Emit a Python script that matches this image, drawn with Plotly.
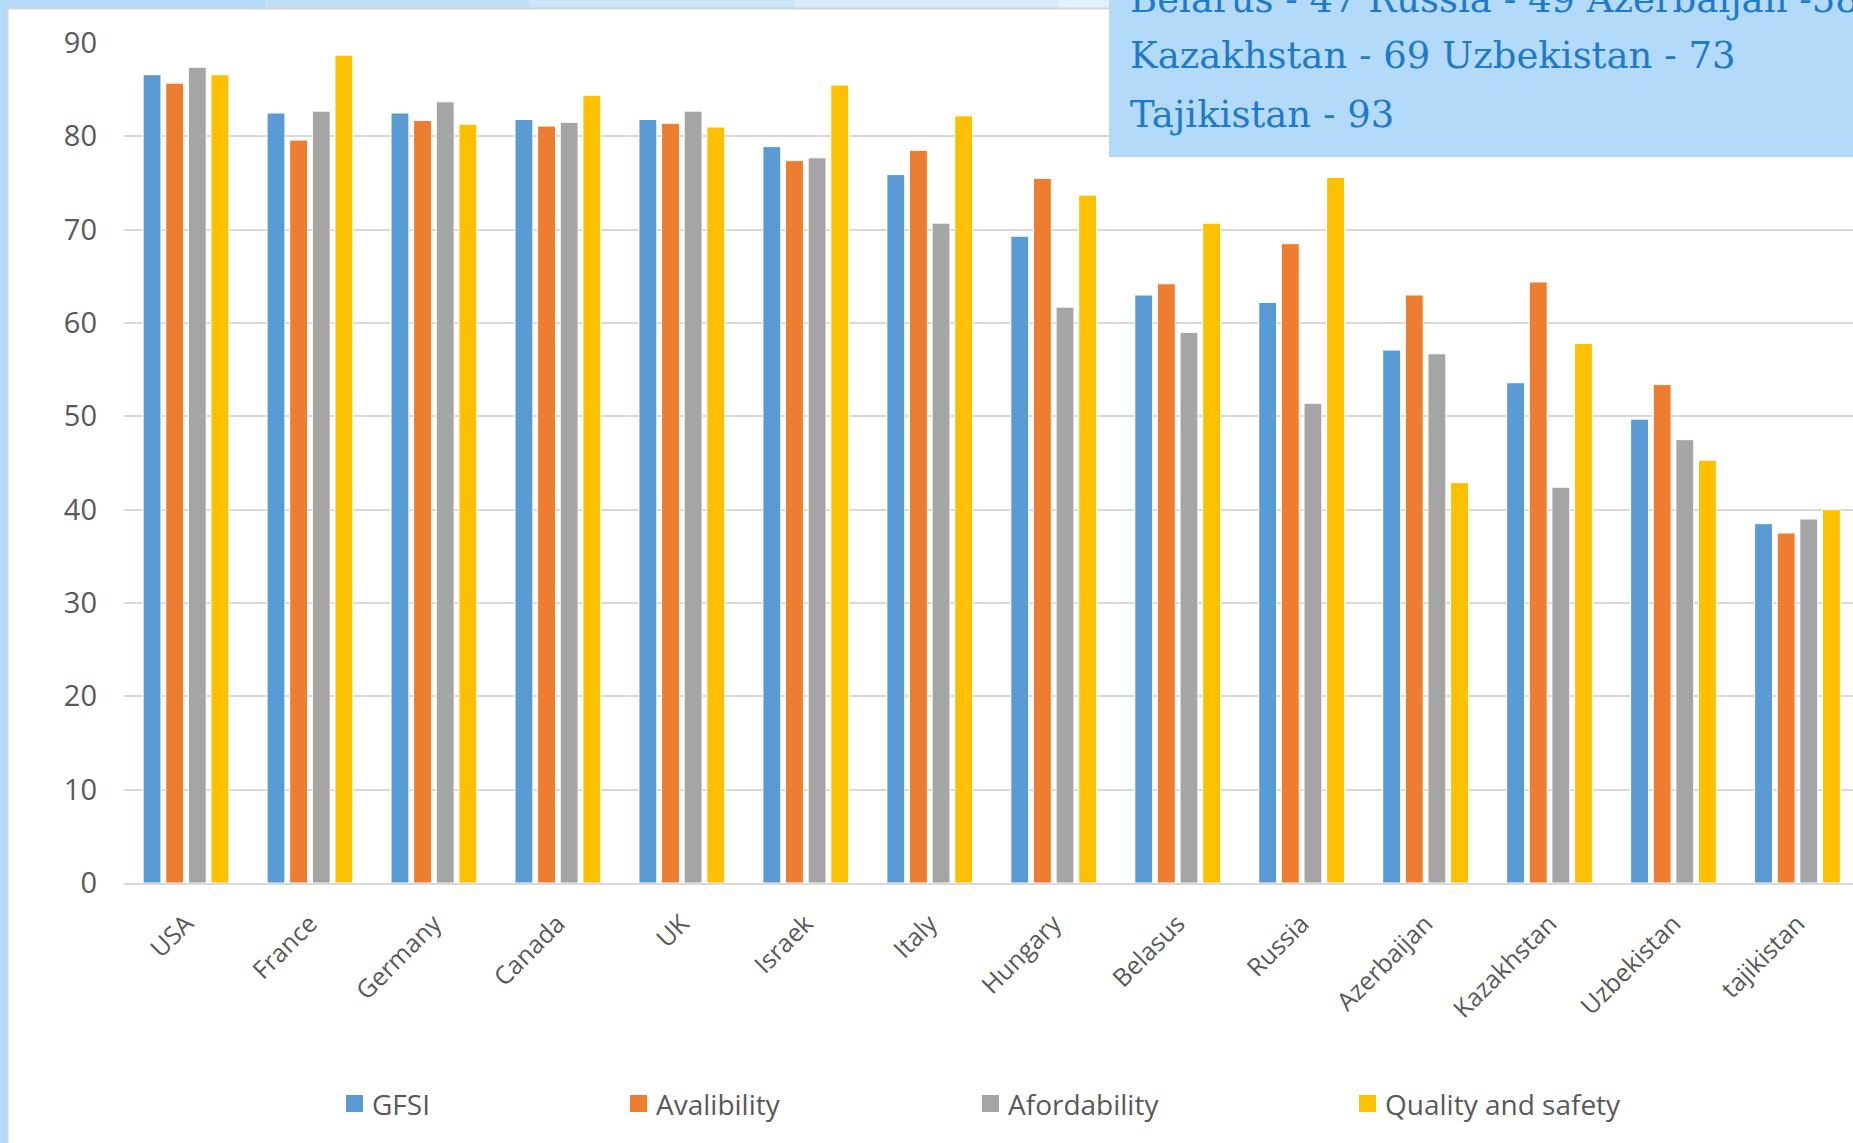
import plotly.graph_objects as go

# Global Food Security Index scores by country
categories = ["USA", "France", "Germany", "Canada", "UK", "Israek", "Italy", "Hungary",
              "Belasus", "Russia", "Azerbaijan", "Kazakhstan", "Uzbekistan", "tajikistan"]
gfsi = [86.6, 82.5, 82.5, 81.8, 81.8, 78.9, 75.9, 69.3, 63.0, 62.2, 57.1, 53.6, 49.7, 38.5]
availability = [85.7, 79.6, 81.7, 81.1, 81.4, 77.4, 78.5, 75.5, 64.2, 68.5, 63.0, 64.4, 53.4, 37.5]
affordability = [87.4, 82.7, 83.7, 81.5, 82.7, 77.7, 70.7, 61.7, 59.0, 51.4, 56.7, 42.4, 47.5, 39.0]
quality_safety = [86.6, 88.7, 81.3, 84.4, 81.0, 85.5, 82.2, 73.7, 70.7, 75.6, 42.9, 57.8, 45.3, 40.0]

series_names = ["GFSI", "Avalibility", "Afordability", "Quality and safety"]
series_values = [gfsi, availability, affordability, quality_safety]
series_colors = ["#5B9BD5", "#ED7D31", "#A5A5A5", "#FFC000"]

y_ticks = [0, 10, 20, 30, 40, 50, 60, 70, 80, 90]

rank_lines = ["Belarus - 47 Russia - 49 Azerbaijan -58",
              "Kazakhstan - 69 Uzbekistan - 73",
              "Tajikistan - 93"]

# Page geometry (pixels)
W, H = 1853, 1143
ML, MR, MT, MB = 124, 0, 43, 260
PW, PH = W - ML - MR, H - MT - MB


def px(x):
    return (x - ML) / PW


def py(y):
    return (H - MB - y) / PH


FONT = "Open Sans"
TXT = "#595959"

fig = go.Figure()
x_idx = list(range(len(categories)))
for name, vals, col in zip(series_names, series_values, series_colors):
    fig.add_trace(go.Bar(
        x=x_idx, y=vals, name=name,
        marker=dict(color=col, line=dict(color="white", width=1)),
        showlegend=False,
    ))

shapes = []
annotations = []

# Slide frame: blue strip on the left and a fading strip along the top
shapes.append(dict(type="rect", xref="paper", yref="paper", x0=px(0), x1=px(7), y0=py(H), y1=py(0),
                   fillcolor="#b3daf8", line=dict(width=0), layer="above"))
top_steps = ["#b3daf8", "#bfdff9", "#cbe5fa", "#d7ebfb", "#e2f0fc", "#ebf4fd", "#f1f7fd"]
seg = W / len(top_steps)
for i, c in enumerate(top_steps):
    shapes.append(dict(type="rect", xref="paper", yref="paper", x0=px(i * seg), x1=px((i + 1) * seg + 1),
                       y0=py(8), y1=py(0), fillcolor=c, line=dict(width=0), layer="above"))
shapes.append(dict(type="line", xref="paper", yref="paper", x0=px(7.5), x1=px(7.5), y0=py(H), y1=py(8),
                   line=dict(color="#d4d4d4", width=2), layer="above"))
shapes.append(dict(type="line", xref="paper", yref="paper", x0=px(7), x1=px(W), y0=py(8.5), y1=py(8.5),
                   line=dict(color="#d4d4d4", width=2), layer="above"))

# Ranking text box
shapes.append(dict(type="rect", xref="paper", yref="paper", x0=px(1109), x1=px(W + 5), y0=py(157), y1=py(-5),
                   fillcolor="#b3daf8", line=dict(width=0), layer="above"))
for line, yc in zip(rank_lines, [0, 56, 114]):
    annotations.append(dict(text=line, xref="paper", yref="paper", x=px(1128), y=py(yc),
                            xanchor="left", yanchor="middle", showarrow=False,
                            font=dict(family="DejaVu Serif", size=37, color="#1f7ac9")))

# Legend row
legend_x = [346, 630, 982, 1359]
for name, col, lx in zip(series_names, series_colors, legend_x):
    shapes.append(dict(type="rect", xref="paper", yref="paper", x0=px(lx), x1=px(lx + 17),
                       y0=py(1112), y1=py(1095), fillcolor=col, line=dict(width=0)))
    annotations.append(dict(text=name, xref="paper", yref="paper", x=px(lx + 24), y=py(1104),
                            xanchor="left", yanchor="middle", showarrow=False,
                            font=dict(family=FONT, size=28, color=TXT)))

fig.update_layout(
    width=W, height=H, autosize=False,
    margin=dict(l=ML, r=MR, t=MT, b=MB, pad=0),
    paper_bgcolor="white", plot_bgcolor="white",
    barmode="group", bargap=0.27, bargroupgap=0.21,
    showlegend=False,
    font=dict(family=FONT, color=TXT),
    shapes=shapes, annotations=annotations,
    xaxis=dict(
        range=[-0.5, -0.5 + PW / 123.96],
        tickmode="array", tickvals=x_idx, ticktext=categories,
        tickangle=-45, tickfont=dict(size=25, color=TXT),
        showgrid=False, ticks="", showline=True, linecolor="#d9d9d9", linewidth=2,
        ticklabelstandoff=14, zeroline=False,
    ),
    yaxis=dict(
        range=[0, 90], tickmode="array", tickvals=y_ticks,
        tickfont=dict(size=29, color=TXT),
        showgrid=True, gridcolor="#d9d9d9", gridwidth=1.5,
        zeroline=False, showline=False, ticks="", ticklabelstandoff=26,
    ),
)

fig.write_html("out.html")
